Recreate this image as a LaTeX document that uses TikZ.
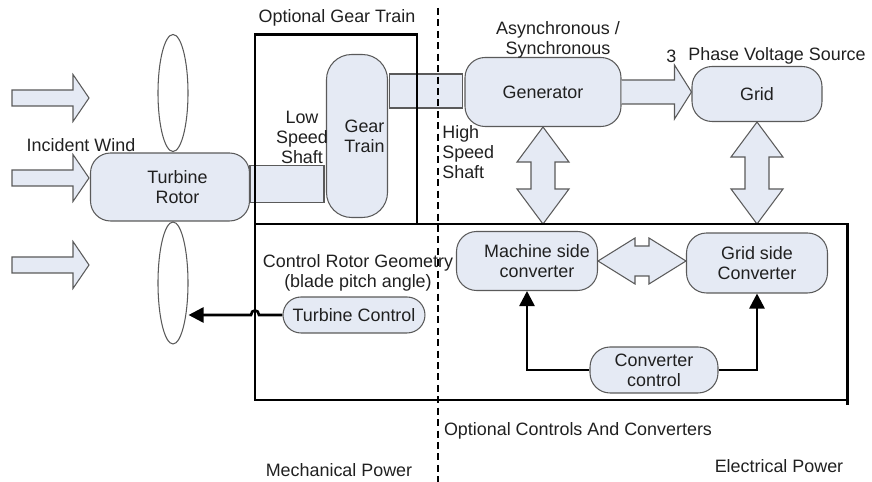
\documentclass[tikz,border=0pt]{standalone}
\usepackage{fontspec}
\setmainfont{Liberation Sans}
\usetikzlibrary{arrows.meta, positioning, calc, shapes.geometric}
\definecolor{boxfill}{HTML}{E5EAF4}
\definecolor{boxline}{HTML}{5A5A5A}
\definecolor{txt}{HTML}{202020}

% fat two-way arrow, top tip #1, bottom tip #2
\newcommand{\vtwoway}[2]{%
  \draw[fat] (#1) -- ($(#1)+(26,35)$) -- ($(#1)+(12,35)$) -- ($(#2)+(12,-35)$) -- ($(#2)+(26,-35)$) -- (#2)
    -- ($(#2)+(-26,-35)$) -- ($(#2)+(-12,-35)$) -- ($(#1)+(-12,35)$) -- ($(#1)+(-26,35)$) -- cycle;}

\begin{document}
\begin{tikzpicture}[x=0.02cm, y=-0.02cm,
  every node/.style={font=\fontsize{10.2}{11.4}\selectfont, text=txt},
  block/.style={draw=boxline, fill=boxfill, rounded corners=0.4cm, inner sep=0pt, align=center, line width=0.6pt},
  shaft/.style={draw=boxline, fill=boxfill, inner sep=0pt, line width=0.6pt},
  blade/.style={ellipse, draw=boxline, inner sep=0pt, minimum width=0.6cm, line width=0.6pt},
  fat/.style={draw=boxline, fill=boxfill, line width=0.6pt, line join=miter},
  frame/.style={draw=black, line width=1.7pt},
  ctrl/.style={draw=black, line width=1.5pt, -{Triangle[length=0.3cm, width=0.3cm]}},
  lbl/.style={align=center, inner sep=0pt}]
    \useasboundingbox (0,0) rectangle (872,482);

    \coordinate (gearnw) at (255,35);
    \coordinate (ctlnw) at (255,224);
    \coordinate (ctlse) at (847,400);

    % wind
    \foreach \wy in {98,178,265}
        \draw[fat] (12,\wy-8) -- (73,\wy-8) -- (73,\wy-23.5) -- (89,\wy) -- (73,\wy+23.5) -- (73,\wy+8) -- (12,\wy+8) -- cycle;

    % mechanical side
    \node[blade, minimum height=2.34cm] (blade1) at (173,93) {};
    \node[blade, minimum height=2.44cm] (blade2) at (173,283) {};
    \node[block, minimum width=3.18cm, minimum height=1.36cm] (rotor) at (170,187) {\hspace*{0.3cm}Turbine\\\hspace*{0.3cm}Rotor};
    \node[shaft, minimum width=1.48cm, minimum height=0.74cm] (lss) at (287,184) {};
    \node[block, rounded corners=0.5cm, minimum width=1.22cm, minimum height=3.26cm] (gear) at (357,136) {\hspace*{0.3cm}Gear\\\hspace*{0.3cm}Train};
    \node[shaft, minimum width=1.46cm, minimum height=0.68cm] (hss) at (426,91) {};

    % electrical side
    \node[block, minimum width=3.12cm, minimum height=1.38cm] (gen) at (543,92) {Generator};
    \node[block, minimum width=2.6cm, minimum height=1.1cm] (grid) at (757,94) {Grid};
    \node[block, minimum width=2.82cm, minimum height=1.18cm] (msc) at (527,261) {\hspace*{0.4cm}Machine side\\\hspace*{0.4cm}converter};
    \node[block, minimum width=2.82cm, minimum height=1.2cm] (gsc) at (757,263) {Grid side\\Converter};
    \node[block, minimum width=2.56cm, minimum height=0.92cm] (cc) at (654,370) {Converter\\control};
    \node[block, rounded corners=0.36cm, minimum width=2.84cm, minimum height=0.72cm] (tc) at (354,315) {Turbine Control};

    % power flow
    \coordinate (gridin) at (grid.west |- gen.east);
    \draw[fat] ($(gen.east)+(0,-12)$) -- ($(gridin)+(-17,-12)$) -- ($(gridin)+(-17,-27)$) -- (gridin)
        -- ($(gridin)+(-17,27)$) -- ($(gridin)+(-17,12)$) -- ($(gen.east)+(0,12)$);
    \coordinate (genlow) at (gen.south |- ctlnw);
    \coordinate (gridlow) at (grid.south |- ctlnw);
    \vtwoway{gen.south}{genlow}
    \vtwoway{grid.south}{gridlow}
    \coordinate (gscin) at (gsc.west |- msc.east);
    \draw[fat] (msc.east) -- ($(msc.east)+(37,-23)$) -- ($(msc.east)+(37,-15)$) -- ($(gscin)+(-37,-15)$) -- ($(gscin)+(-37,-23)$) -- (gscin)
        -- ($(gscin)+(-37,23)$) -- ($(gscin)+(-37,15)$) -- ($(msc.east)+(37,15)$) -- ($(msc.east)+(37,23)$) -- cycle;

    % frames
    \draw[frame] (gearnw) rectangle (417,224);
    \draw[frame] (ctlnw) rectangle (ctlse);
    \draw[frame] (ctlse) -- ++(0,5);
    \draw[line width=1.3pt, dash pattern=on 4pt off 2.5pt] (438,8) -- (438,482);

    % control signals
    \draw[ctrl] (cc.west) -| (msc.south);
    \draw[ctrl] (cc.east) -| (gsc.south);
    \draw[ctrl] (tc.west) -- (259,315) .. controls (259,309) and (251,309) .. (251,315) -- (tc.west -| blade2.east);

    % labels
    \node[lbl] (optgear) at (337,18) {Optional Gear Train};
    \node[lbl] (wind) at (81,145) {Incident Wind};
    \node[lbl] (lowshaft) at (302,137) {Low\\Speed\\Shaft};
    \node[lbl, align=left, anchor=west] (highshaft) at (442,152) {High\\Speed\\Shaft};
    \node[lbl] (genkind) at (558,40) {Asynchronous /\\Synchronous};
    \node[lbl, anchor=west] (three) at (666,56) {3};
    \node[lbl, anchor=west] (source) at (688,56) {Phase Voltage Source};
    \node[lbl] (rotorgeo) at (358,273) {Control Rotor Geometry\\(blade pitch angle)};
    \node[lbl] (optctrl) at (578,431) {Optional Controls And Converters};
    \node[lbl] (mech) at (339,470) {Mechanical Power};
    \node[lbl] (elec) at (779,466) {Electrical Power};
\end{tikzpicture}
\end{document}
